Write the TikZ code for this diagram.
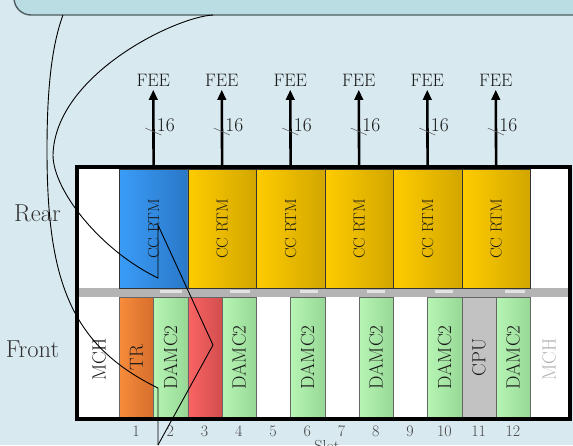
\documentclass[tikz,border=0pt]{standalone}
\usepackage{fontspec}
\usetikzlibrary{arrows.meta}
\definecolor{bg}{HTML}{D8E9F0}
\definecolor{callfill}{HTML}{B9DDE3}
\definecolor{callline}{HTML}{4F5C5E}
\definecolor{blueL}{HTML}{3A9CF7}
\definecolor{blueR}{HTML}{2A78C8}
\definecolor{yelL}{HTML}{FFCC00}
\definecolor{yelR}{HTML}{D2A600}
\definecolor{orgL}{HTML}{F88C3C}
\definecolor{orgR}{HTML}{D66E2C}
\definecolor{grnL}{HTML}{B6F5B4}
\definecolor{grnR}{HTML}{98D896}
\definecolor{redL}{HTML}{FA6464}
\definecolor{redR}{HTML}{D24E4E}
\definecolor{cpugray}{HTML}{C2C2C2}
\definecolor{bandgray}{HTML}{B4B4B4}
\definecolor{bandlight}{HTML}{E2E2E2}
\definecolor{mchgray}{HTML}{B0B0B0}
\tikzset{
  rearbox/.style={anchor=north west, inner sep=0pt, minimum width=68.5pt, minimum height=119pt, draw=black!80, line width=0.8pt},
  frontbox/.style={anchor=north west, inner sep=0pt, minimum width=34.25pt, minimum height=120pt, draw=black!60, line width=0.6pt},
  emptybox/.style={anchor=north west, inner sep=0pt, minimum width=34.25pt, minimum height=120pt},
  mchbox/.style={anchor=north west, inner sep=0pt, minimum width=40pt, minimum height=120pt},
  rtmbox/.style={rearbox, left color=yelL, right color=yelR},
  bluebox/.style={rearbox, left color=blueL, right color=blueR},
  trbox/.style={frontbox, left color=orgL, right color=orgR},
  damcbox/.style={frontbox, left color=grnL, right color=grnR},
  redbox/.style={frontbox, left color=redL, right color=redR},
  cpubox/.style={frontbox, fill=cpugray},
  rtmtext/.style={rotate=90, inner sep=0pt, text=black!90, font=\fontsize{16}{18}\selectfont},
  fronttext/.style={rotate=90, inner sep=0pt, text=black!90, font=\fontsize{19}{22}\selectfont},
  sidetext/.style={inner sep=0pt, text=black!80, font=\fontsize{24.5}{28}\selectfont},
  feetext/.style={inner sep=0pt, text=black!90, font=\fontsize{18}{20}\selectfont},
  widthtext/.style={inner sep=0pt, anchor=west, text=black!90, font=\fontsize{19.5}{22}\selectfont},
  numtext/.style={inner sep=0pt, text=black!72, font=\fontsize{16}{18}\selectfont},
  busarrow/.style={line width=2.6pt, -{Triangle[width=8.5pt,length=10pt]}},
  slashline/.style={line width=0.6pt, draw=black!60},
  ink/.style={line width=0.9pt, draw=black},
  callout/.style={fill=callfill, draw=callline, line width=1.4pt, rounded corners=17pt}
}
\begin{document}
\begin{tikzpicture}[x=1pt,y=-1pt]
\useasboundingbox (0,0) rectangle (573,445);
\clip (0,0) rectangle (573,445);
\fill[bg] (0,0) rectangle (573,445);
% callout box at top
\draw[callout] (14,-60) rectangle (600,15);
% crate interior
\fill[white] (77,167) rectangle (570,419);
% separation band
\fill[bandgray] (79,288) rectangle (568,297);
\foreach \a/\b in {160/182,230/250,300/318,367/385,435/453,505/525}{
  \fill[bandlight] (\a,289.5) rectangle (\b,292.5);
}
% rear slots
\node[bluebox] (r1) at (119,169) {};
\node[rtmbox] (r2) at (187.5,169) {};
\node[rtmbox] (r3) at (256,169) {};
\node[rtmbox] (r4) at (324.5,169) {};
\node[rtmbox] (r5) at (393,169) {};
\node[rtmbox] (r6) at (461.5,169) {};
\foreach \k in {1,...,6}{
  \node[rtmtext] (rt\k) at (r\k) {CC RTM};
}
% front slots
\node[mchbox] (mchL) at (79,297) {};
\node[trbox] (f1) at (119,297) {};
\node[damcbox] (f2) at (153.25,297) {};
\node[redbox] (f3) at (187.5,297) {};
\node[damcbox] (f4) at (221.75,297) {};
\node[emptybox] (f5) at (256,297) {};
\node[damcbox] (f6) at (290.25,297) {};
\node[emptybox] (f7) at (324.5,297) {};
\node[damcbox] (f8) at (358.75,297) {};
\node[emptybox] (f9) at (393,297) {};
\node[damcbox] (f10) at (427.25,297) {};
\node[cpubox] (f11) at (461.5,297) {};
\node[damcbox] (f12) at (495.75,297) {};
\node[mchbox, minimum width=38pt] (mchR) at (530,297) {};
\node[fronttext] (tmchL) at ([yshift=-2pt]mchL.center) {MCH};
\node[fronttext] (ttr) at (f1) {TR};
\foreach \j in {2,4,6,8,10,12}{
  \node[fronttext] (tf\j) at (f\j) {DAMC2};
}
\node[fronttext] (tcpu) at (f11) {CPU};
\node[fronttext, text=mchgray] (tmchR) at ([yshift=-2pt]mchR.center) {MCH};
% crate frame
\draw[line width=4pt] (77,167) rectangle (570,419);
% side labels
\node[sidetext] (rear) at (37.5,213.5) {Rear};
\node[sidetext] (front) at (32.5,349.5) {Front};
% FEE links
\foreach \k in {1,...,6}{
  \pgfmathsetmacro{\xx}{153.25+68.5*(\k-1)}
  \node[feetext] (fee\k) at (\xx,80.5) {FEE};
  \draw[busarrow] (r\k.north) -- ([yshift=-3pt]fee\k.south);
  \draw[slashline] (\xx-8,128) -- (\xx+8,135);
  \node[widthtext] (w\k) at (\xx+3.5,125) {16};
}
% slot numbers
\foreach \j in {1,...,12}{
  \node[numtext] (n\j) at ({119+34.25*(\j-0.5)},431) {\j};
}
\node[numtext] (slotlabel) at (327,446.5) {Slot};
% ink strokes
\draw[ink] (63,15) .. controls (50,50) and (47,100) .. (47,150)
  .. controls (47,280) and (70,345) .. (158,388) -- (158,445);
\draw[ink] (213,15) .. controls (175,17) and (55,75) .. (53,155)
  .. controls (53,190) and (100,250) .. (158,278)
  -- (158,225) -- (213,345) -- (158,445);
\end{tikzpicture}
\end{document}
